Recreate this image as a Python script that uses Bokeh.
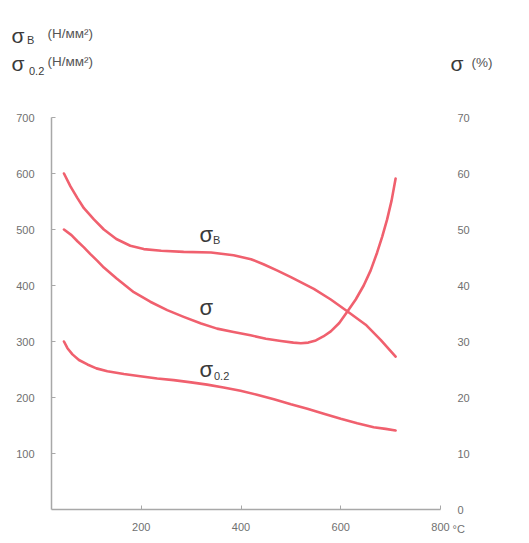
from bokeh.plotting import figure
from bokeh.models import Range1d, LinearAxis, FixedTicker, Label
from bokeh.embed import file_html
from bokeh.resources import INLINE

# Ultimate strength sigma_B (N/mm^2) vs temperature (deg C)
temp_b = [45, 58, 72, 85, 105, 125, 150, 178, 205, 240, 285, 340, 385, 420, 445,
          472, 500, 546, 580, 613, 650, 680, 710]
sigma_b = [600, 577, 556, 538, 518, 500, 483, 471, 465, 462, 460, 459, 454, 447, 438,
           427, 415, 394, 375, 354, 330, 303, 273]

# Elongation sigma (%) vs temperature
temp_d = [45, 60, 72, 85, 98, 112, 125, 150, 185, 218, 252, 285, 320, 352, 385, 419,
          450, 480, 505, 520, 535, 550, 565, 580, 597, 613, 630, 646, 660, 673, 683,
          693, 702, 710]
delta = [50, 49, 47.9, 46.8, 45.6, 44.4, 43.2, 41.3, 38.8, 37.1, 35.6, 34.4, 33.2,
         32.3, 31.7, 31.1, 30.5, 30.1, 29.8, 29.7, 29.8, 30.2, 30.9, 31.8, 33.3, 35.3,
         37.5, 40.0, 42.7, 45.9, 48.7, 51.8, 55.2, 59.1]

# Yield strength sigma_0.2 (N/mm^2) vs temperature
temp_02 = [45, 52, 62, 75, 92, 110, 132, 165, 198, 232, 265, 300, 332, 365, 399, 432,
           466, 500, 533, 566, 600, 633, 666, 690, 710]
sigma_02 = [300, 288, 277, 267, 259, 252, 247, 242, 238, 234, 231, 227, 223, 218, 212,
            205, 197, 188, 180, 171, 162, 154, 147, 144, 141]

x_ticks = [200, 400, 600, 800]
left_ticks = [100, 200, 300, 400, 500, 600, 700]
right_ticks = [0, 10, 20, 30, 40, 50, 60, 70]
X_MIN, X_MAX = 20, 800
Y_MIN, Y_MAX = 0, 700
P_MIN, P_MAX = 0, 70

LINE = "#f0606e"
AXIS = "#a8a8a8"
TICKTXT = "#707070"
TXT = "#3a3a3a"
UNIT = "#555555"
FONT = "Liberation Sans"

W, H = 529, 543
# pixel box of the plotting area (axes corners) inside the canvas
FL, FR, FT, FB = 51, 440, 117, 509
sx = (FR - FL) / (X_MAX - X_MIN)
sy = (FB - FT) / (Y_MAX - Y_MIN)

x_range = Range1d(X_MIN - FL / sx, X_MAX + (W - FR) / sx)
y_range = Range1d(Y_MIN - (H - FB) / sy, Y_MAX + FT / sy)
p_ratio = (P_MAX - P_MIN) / (Y_MAX - Y_MIN)
pct_range = Range1d(P_MIN + (y_range.start - Y_MIN) * p_ratio,
                    P_MIN + (y_range.end - Y_MIN) * p_ratio)

p = figure(width=W, height=H, output_backend="svg", toolbar_location=None,
           x_range=x_range, y_range=y_range, x_axis_type=None, y_axis_type=None,
           min_border_left=0, min_border_right=0, min_border_top=0,
           min_border_bottom=0)
p.extra_y_ranges = {"pct": pct_range}
p.grid.visible = False
p.outline_line_color = None
p.background_fill_color = "white"
p.border_fill_color = "white"


def style(ax, standoff):
    ax.major_tick_out = 0
    ax.minor_tick_line_color = None
    ax.major_label_standoff = standoff
    ax.major_label_text_font = FONT
    ax.major_label_text_font_size = "11px"
    ax.major_label_text_color = TICKTXT


xa = LinearAxis(ticker=FixedTicker(ticks=x_ticks), bounds=(X_MIN, X_MAX),
                fixed_location=Y_MIN)
ya = LinearAxis(ticker=FixedTicker(ticks=left_ticks), bounds=(Y_MIN, Y_MAX),
                fixed_location=X_MIN)
for ax, so in ((xa, 13), (ya, 17)):
    style(ax, so)
    ax.axis_line_color = AXIS
    ax.axis_line_width = 1.5
    ax.major_tick_line_color = AXIS
    ax.major_tick_line_width = 1
    ax.major_tick_in = 4
p.add_layout(xa, "below")
p.add_layout(ya, "left")

ra = LinearAxis(y_range_name="pct", ticker=FixedTicker(ticks=right_ticks),
                bounds=(P_MIN, P_MAX), fixed_location=X_MAX)
style(ra, 17)
ra.axis_line_color = None
ra.major_tick_line_color = None
ra.major_tick_in = 0
p.add_layout(ra, "right")

p.line(temp_b, sigma_b, line_color=LINE, line_width=2.6, line_join="round", line_cap="round")
p.line(temp_02, sigma_02, line_color=LINE, line_width=2.6, line_join="round", line_cap="round")
p.line(temp_d, delta, y_range_name="pct", line_color=LINE, line_width=2.6,
       line_join="round", line_cap="round")


def dx(px):
    return X_MIN + (px - FL) / sx


def dy(py):
    return Y_MIN + (FB - py) / sy


def lab(text, px, py, size, color=TXT):
    p.add_layout(Label(x=dx(px), y=dy(py), text=text, text_font=FONT,
                       text_font_size=size, text_color=color,
                       text_baseline="alphabetic", text_align="left"))


# axis titles
lab("σ", 11, 35, "21px")
lab("B", 26.5, 39.5, "11px")
lab("(Н/мм²)", 47, 33, "13.5px", UNIT)
lab("σ", 11, 63, "21px")
lab("0.2", 28.5, 70, "11px")
lab("(Н/мм²)", 47, 61, "13.5px", UNIT)
lab("σ", 450, 63, "21px")
lab("(%)", 471, 62, "13.5px", UNIT)
lab("°C", 452, 528.5, "11px", TICKTXT)

# curve labels
lab("σ", 199, 233.5, "22px")
lab("B", 212.5, 239.5, "11px")
lab("σ", 199, 306.5, "22px")
lab("σ", 199, 368.5, "22px")
lab("0.2", 213.5, 375, "11px")

open("out.html", "w").write(file_html(p, INLINE))
